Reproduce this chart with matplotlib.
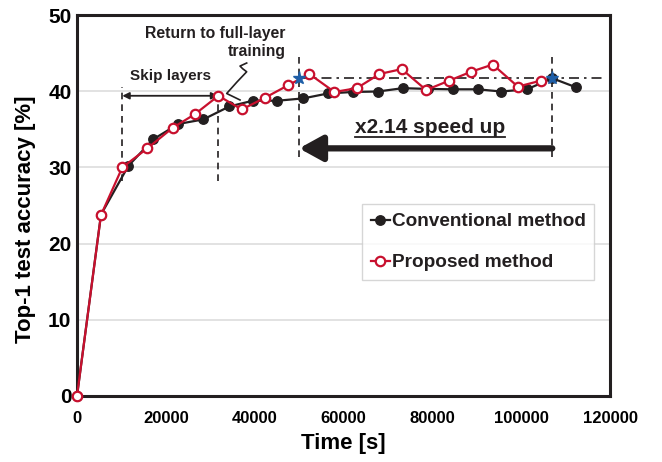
import matplotlib
matplotlib.use("Agg")
import matplotlib.pyplot as plt

plt.rcParams['font.family'] = ['Liberation Sans', 'DejaVu Sans']
plt.rcParams['font.weight'] = 'bold'

# Data
conv_time = [0, 5400, 11560, 17190, 22820, 28450, 34300, 39570, 45120, 50970,
             56460, 62090, 67720, 73350, 79000, 84600, 90200, 95500, 101300,
             107000, 112400]
conv_acc = [0, 23.8, 30.2, 33.7, 35.7, 36.3, 38.0, 38.75, 38.75, 39.06,
            39.7, 39.9, 39.96, 40.4, 40.3, 40.25, 40.25, 39.96, 40.25,
            41.7, 40.5]
prop_time = [0, 5400, 10200, 15840, 21550, 26580, 31830, 37090, 42340, 47600,
             52320, 57950, 63000, 68090, 73100, 78600, 83850, 88740, 93600,
             99250, 104500]
prop_acc = [0, 23.75, 30.0, 32.5, 35.2, 37.0, 39.4, 37.6, 39.15, 40.8,
            42.26, 39.9, 40.4, 42.26, 42.9, 40.16, 41.4, 42.56, 43.5,
            40.6, 41.4]
star_time = [50000, 107000]
star_acc = [41.7, 41.7]
skip_start, skip_end = 10200, 31800
x_ticks = [0, 20000, 40000, 60000, 80000, 100000, 120000]
y_ticks = [0, 10, 20, 30, 40, 50]

fig = plt.figure(figsize=(6.62, 4.62), dpi=100)
ax = fig.add_axes([0.1163, 0.1429, 0.8052, 0.8246])

ax.set_xlim(0, 120000)
ax.set_ylim(0, 50)
ax.set_xticks(x_ticks)
ax.set_yticks(y_ticks)
ax.set_xticklabels([str(t) for t in x_ticks], fontsize=12, fontweight='bold')
ax.set_yticklabels([str(t) for t in y_ticks], fontsize=15, fontweight='bold')
ax.tick_params(axis='x', length=0, pad=11)
ax.tick_params(axis='y', length=0, pad=4)
ax.grid(axis='y', color='#dddddd', linewidth=1.2)
ax.set_axisbelow(True)
for s in ax.spines.values():
    s.set_linewidth(2.2)
    s.set_color('#231f20')

ax.set_xlabel('Time [s]', fontsize=16, fontweight='bold', labelpad=5)
ax.set_ylabel('Top-1 test accuracy [%]', fontsize=16, fontweight='bold')
ax.yaxis.set_label_coords(-0.077, 0.465)

# Lines
ax.plot(conv_time, conv_acc, color='#231f20', linewidth=1.6, marker='o',
        markersize=6.8, markerfacecolor='#231f20', markeredgecolor='#231f20',
        label='Conventional method', clip_on=False, zorder=3)
ax.plot(prop_time, prop_acc, color='#c8102e', linewidth=1.6, marker='o',
        markersize=6.8, markerfacecolor='white', markeredgecolor='#c8102e',
        markeredgewidth=1.6, label='Proposed method', clip_on=False, zorder=4)

# Dash-dot horizontal line from first star
ax.plot([star_time[0], 118900], [star_acc[0], star_acc[0]], color='#231f20',
        linestyle=(0, (6, 3, 1.5, 3)), linewidth=1.2, zorder=2)
ax.plot(star_time, star_acc, linestyle='none', marker='*', markersize=9.5,
        color='#1f5fa8', zorder=6)

# Vertical dashed lines
dash = dict(color='#231f20', linestyle=(0, (4, 3)), linewidth=1.2, zorder=2)
ax.plot([skip_start, skip_start], [28.2, 40.6], **dash)
ax.plot([skip_end, skip_end], [28.2, 39.8], **dash)
ax.plot([star_time[0], star_time[0]], [31.4, 45.0], **dash)
ax.plot([star_time[1], star_time[1]], [31.4, 45.0], **dash)

# Skip layers arrow
ax.annotate('', xy=(skip_start, 39.4), xytext=(skip_end, 39.4),
            arrowprops=dict(arrowstyle='<|-|>', color='#231f20', lw=1.3,
                            mutation_scale=10, shrinkA=0, shrinkB=0))
ax.text(21000, 42.0, 'Skip layers', ha='center', va='center', fontsize=11,
        fontweight='bold', color='#231f20')

# Return to full-layer training
ax.text(47000, 46.4, 'Return to full-layer\ntraining', ha='right', va='center',
        fontsize=11.3, fontweight='bold', color='#231f20', linespacing=1.3)
sq_x = [38200, 36700, 37300, 38200, 36000, 33700, 36700]
sq_y = [43.7, 43.3, 42.95, 42.55, 41.2, 39.7, 38.85]
ax.plot(sq_x, sq_y, color='#231f20', linewidth=1.2, zorder=5)

# Speed up arrow
ax.annotate('', xy=(star_time[0], 32.5), xytext=(star_time[1], 32.5),
            arrowprops=dict(arrowstyle='-|>,head_length=1.0,head_width=0.55',
                            color='#231f20', lw=4.5, shrinkA=0, shrinkB=0,
                            mutation_scale=14))
ax.text(79500, 35.3, 'x2.14 speed up', ha='center', va='center', fontsize=15,
        fontweight='bold', color='#231f20')
ax.plot([62600, 96400], [34.0, 34.0], color='#231f20', linewidth=1.3)

leg = ax.legend(loc='upper left', bbox_to_anchor=(0.535, 0.503), fontsize=13.7,
                frameon=True, fancybox=False, edgecolor='#cccccc',
                handlelength=1.0, handletextpad=0.1, borderpad=0.45,
                labelspacing=1.25, borderaxespad=0)
leg.get_frame().set_linewidth(1.0)
for t in leg.get_texts():
    t.set_fontweight('bold')
    t.set_color('#231f20')

fig.savefig('out.png', dpi=100)
